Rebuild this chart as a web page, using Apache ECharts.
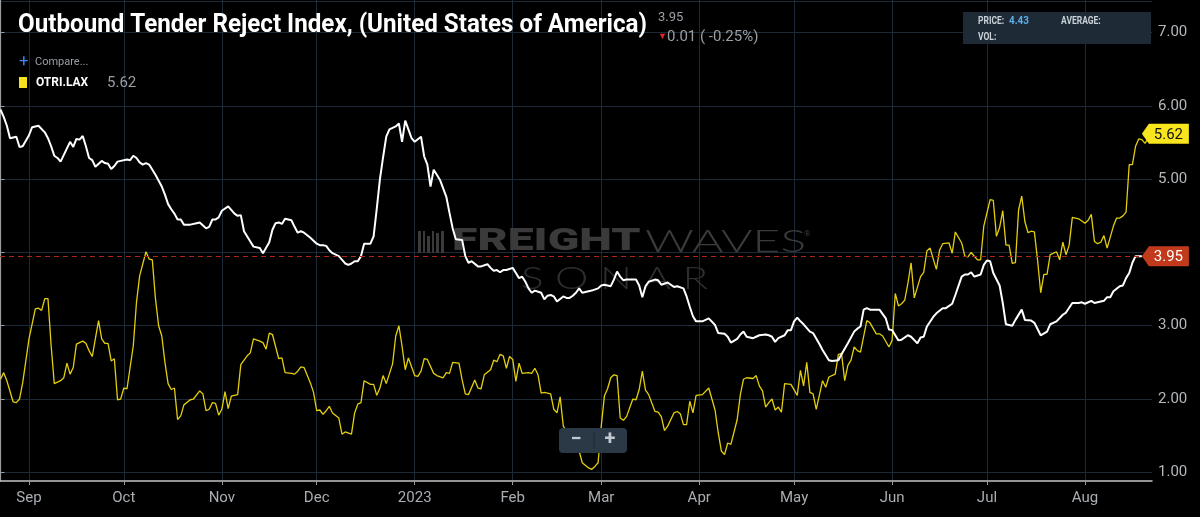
<!DOCTYPE html>
<html><head><meta charset="utf-8">
<script src="https://cdn.jsdelivr.net/npm/echarts@6/dist/echarts.min.js"></script>
<style>html,body{margin:0;padding:0;background:#000;}#c{width:1200px;height:517px;}</style>
</head><body><div id="c"></div>
<script>
// ---- data (day offsets counted from startDate) ----
const startDate = '2022-08-23';
const usDays = [0,1,2,3,5,6,7,9,10,12,14,15,16,17,18,19,21,22,23,24,25,26,27,28,29,30,32,33,34,35,36,37,38,40,41,42,43,44,45,46,47,49,51,52,53,54,55,56,57,58,60,62,63,65,66,67,68,69,70,72,74,75,76,77,79,80,82,83,85,86,87,88,89,90,92,93,94,95,96,98,100,101,102,103,104,105,107,109,110,111,112,113,114,115,117,118,119,120,121,122,123,125,126,127,128,130,131,133,134,135,136,137,138,139,141,142,143,144,146,147,148,149,151,152,154,155,156,157,158,159,160,162,163,164,165,166,167,168,169,171,172,173,174,175,176,178,179,180,181,182,183,184,186,187,189,190,191,193,194,195,196,197,198,200,201,202,203,204,205,207,208,209,211,212,213,214,216,217,218,219,220,222,223,224,226,227,229,230,231,233,234,235,236,238,239,240,242,243,244,245,246,248,249,250,251,252,253,254,256,257,259,260,262,263,265,266,268,270,271,272,273,274,275,277,278,280,281,282,284,285,287,288,290,291,292,293,295,296,298,299,301,302,304,305,306,307,308,310,311,312,313,314,316,317,318,320,321,323,324,326,327,329,331,332,334,336,337,339,341,342,343,345,346,347,349,350,351,352,354,355,356,357,358,359,361];
const usValues = [5.95,5.85,5.73,5.56,5.58,5.44,5.45,5.60,5.71,5.73,5.64,5.56,5.45,5.32,5.29,5.24,5.42,5.51,5.44,5.55,5.54,5.59,5.45,5.29,5.26,5.17,5.25,5.22,5.21,5.14,5.18,5.24,5.25,5.27,5.26,5.32,5.29,5.23,5.20,5.22,5.20,5.06,4.90,4.79,4.66,4.59,4.53,4.45,4.45,4.38,4.38,4.40,4.41,4.33,4.35,4.45,4.45,4.48,4.57,4.63,4.53,4.50,4.51,4.29,4.15,4.08,4.06,3.99,4.14,4.31,4.40,4.41,4.39,4.46,4.44,4.35,4.27,4.29,4.27,4.20,4.12,4.10,4.10,4.09,4.03,3.99,3.95,3.85,3.83,3.85,3.88,3.88,3.95,4.12,4.12,4.22,4.60,5.00,5.30,5.58,5.68,5.72,5.76,5.51,5.80,5.56,5.51,5.58,5.31,5.20,4.90,5.13,5.06,4.99,4.76,4.54,4.33,4.18,4.17,3.95,3.86,3.88,3.81,3.81,3.84,3.79,3.75,3.76,3.73,3.76,3.76,3.79,3.72,3.65,3.67,3.60,3.51,3.45,3.48,3.45,3.36,3.41,3.42,3.40,3.33,3.40,3.38,3.38,3.41,3.45,3.51,3.45,3.47,3.48,3.51,3.55,3.56,3.54,3.63,3.74,3.67,3.62,3.63,3.63,3.63,3.55,3.39,3.54,3.60,3.63,3.62,3.56,3.59,3.56,3.53,3.54,3.51,3.40,3.26,3.13,3.06,3.06,3.08,3.10,3.01,2.90,2.89,2.85,2.77,2.82,2.88,2.92,2.85,2.83,2.85,2.87,2.88,2.87,2.85,2.78,2.83,2.87,2.94,2.94,3.06,3.11,3.06,3.02,2.92,2.90,2.75,2.67,2.53,2.52,2.53,2.61,2.76,2.92,2.96,2.99,3.22,3.24,3.22,3.22,3.22,3.10,2.95,2.94,2.80,2.81,2.87,2.85,2.76,2.84,2.85,2.99,3.12,3.17,3.24,3.24,3.30,3.42,3.67,3.70,3.70,3.73,3.67,3.70,3.83,3.89,3.88,3.72,3.55,3.31,3.02,3.00,3.08,3.22,3.08,3.07,3.04,2.87,2.92,3.02,3.06,3.15,3.18,3.31,3.31,3.32,3.30,3.34,3.31,3.32,3.34,3.39,3.39,3.47,3.54,3.55,3.65,3.72,3.86,3.95,3.95];
const laxDays = [0,1,2,4,5,6,7,9,11,12,13,14,15,16,17,19,20,21,22,23,24,26,27,28,29,31,32,33,34,35,36,37,38,39,40,42,43,44,46,47,48,49,50,51,52,53,54,55,56,57,58,60,61,63,64,65,66,67,68,69,70,71,72,73,75,76,78,79,80,82,83,84,85,86,88,89,90,92,93,94,95,96,98,99,100,101,102,103,104,105,107,108,109,111,112,113,114,115,117,118,119,120,121,122,124,125,126,127,128,129,131,132,133,134,135,137,138,140,141,142,143,145,146,147,148,150,151,152,153,155,156,157,158,159,160,161,162,163,164,165,167,168,169,170,171,172,174,175,176,177,178,183,184,186,187,188,189,190,191,192,193,194,195,196,197,198,200,201,202,203,204,205,207,208,209,210,211,213,214,215,216,217,218,219,220,222,224,226,227,228,229,230,231,233,234,235,236,238,239,240,241,242,243,244,245,246,247,248,250,252,253,254,255,256,257,258,260,261,262,264,265,266,267,268,269,270,271,272,274,275,277,278,279,281,282,283,284,285,286,287,288,289,291,292,293,294,296,297,298,300,301,302,304,305,306,307,309,310,311,313,314,315,316,317,318,319,320,321,322,323,324,325,326,327,328,329,330,331,332,334,335,336,337,338,339,341,343,344,345,346,347,348,349,350,352,353,354,355,356,357,358,359,360,361,362,363];
const laxValues = [2.27,2.36,2.25,1.96,1.95,2.00,2.22,2.82,3.23,3.24,3.21,3.37,3.37,2.73,2.21,2.25,2.29,2.49,2.34,2.43,2.75,2.79,2.76,2.66,2.58,3.07,2.82,2.76,2.76,2.52,2.55,1.99,2.00,2.15,2.14,2.73,3.32,3.68,4.01,3.91,3.90,3.37,3.00,2.86,2.50,2.21,2.13,2.15,1.72,1.77,1.92,1.99,2.00,2.11,2.07,1.84,1.86,1.95,1.94,1.78,1.86,2.10,1.87,2.04,2.06,2.47,2.59,2.63,2.82,2.79,2.77,2.68,2.90,2.88,2.55,2.56,2.36,2.35,2.34,2.38,2.44,2.43,2.22,2.09,1.84,1.85,1.79,1.84,1.90,1.81,1.74,1.52,1.55,1.52,1.81,1.93,1.95,2.25,2.20,2.20,2.05,2.15,2.32,2.21,2.48,2.86,3.00,2.72,2.40,2.56,2.32,2.31,2.38,2.55,2.54,2.35,2.32,2.29,2.36,2.35,2.50,2.49,2.26,2.07,2.06,2.26,2.15,2.14,2.33,2.40,2.53,2.51,2.61,2.59,2.42,2.58,2.54,2.24,2.49,2.35,2.36,2.35,2.42,2.33,2.08,2.09,2.07,1.86,1.81,2.03,1.63,1.29,1.13,1.06,1.04,1.08,1.13,1.63,2.04,2.14,2.29,2.33,2.32,1.74,1.71,1.76,2.00,1.99,2.13,2.38,2.12,2.06,1.83,1.82,1.76,1.57,1.63,1.81,1.83,1.80,1.65,1.65,1.97,1.81,2.05,2.06,2.15,1.85,1.54,1.29,1.24,1.40,1.38,1.72,2.06,2.27,2.29,2.28,2.32,2.18,2.11,1.89,1.95,2.00,1.85,1.89,1.82,2.21,2.20,2.05,2.39,2.18,2.50,2.09,2.07,1.86,2.25,2.16,2.30,2.34,2.61,2.62,2.25,2.46,2.53,2.71,2.66,2.64,3.07,3.04,2.89,2.89,2.86,2.71,2.80,3.44,3.27,3.30,3.35,3.58,3.86,3.38,3.67,3.73,4.02,4.06,3.77,4.03,4.12,4.13,3.99,4.28,4.13,3.95,3.94,4.00,3.90,3.90,4.36,4.72,4.71,4.22,4.34,4.57,4.10,4.10,3.85,3.86,4.58,4.77,4.42,4.27,4.29,4.28,3.90,3.45,3.70,3.70,3.97,4.01,3.90,4.14,3.97,4.10,4.48,4.46,4.40,4.44,4.52,4.15,4.12,4.14,4.23,4.06,4.36,4.47,4.47,4.50,4.55,5.20,5.20,5.45,5.55,5.54,5.49,5.56];
const monthTicks = ['2022-09-01','2022-10-01','2022-11-01','2022-12-01','2023-01-01','2023-02-01','2023-03-01','2023-04-01','2023-05-01','2023-06-01','2023-07-01','2023-08-01'];
const monthLabels = ['Sep','Oct','Nov','Dec','2023','Feb','Mar','Apr','May','Jun','Jul','Aug'];
const yTicks = [1,2,3,4,5,6,7];
const usLast = 3.95;
const laxLast = 5.62;
const usChange = '0.01 ( -0.25%)';
const infoPrice = '4.43';
const xRangeDays = [-0.17, 364.2];
const yRange = [0.881, 7.446];

// ---- build ----
const DAY = 86400000;
const t0 = Date.parse(startDate);
const usData = usDays.map((d, i) => [d, usValues[i]]);
const laxData = laxDays.map((d, i) => [d, laxValues[i]]);
const tickDays = monthTicks.map(s => Math.round((Date.parse(s) - t0) / DAY));
const labelOf = {};
tickDays.forEach((d, i) => { labelOf[d] = monthLabels[i]; });
const lastDay = usDays[usDays.length - 1];
// axis labels that sit under a price tag are covered by it in the original
const coveredByTag = v => Math.abs(v - usLast) < 0.15 || Math.abs(v - laxLast) < 0.15;

const FONT = 'Roboto, "Noto Sans", sans-serif';
const GRID = '#1c2937';

function txt(x, y, text, o) {
  o = o || {};
  return {
    type: 'text', x: x, y: y, z: o.z || 100, scaleX: o.sx || 1,
    style: {
      text: text, fill: o.fill || '#9a9fa5', fontSize: o.size || 12,
      fontWeight: o.weight || 'normal', fontFamily: o.family || FONT,
      textVerticalAlign: 'middle', textAlign: o.align || 'left'
    }
  };
}
const tagPath = 'path://M0,10 L7,0 L47,0 L47,20 L7,20 Z';

const chart = echarts.init(document.getElementById('c'), null, { renderer: 'canvas' });
chart.setOption({
  backgroundColor: '#000000',
  animation: false,
  grid: { left: 0, right: 48, top: 0, bottom: 36, containLabel: false },
  xAxis: {
    type: 'value',
    min: xRangeDays[0], max: xRangeDays[1],
    axisLine: { show: true, lineStyle: { color: '#c4c4c4', width: 1.5 } },
    axisTick: { show: true, customValues: tickDays, length: 4, lineStyle: { color: '#9a9a9a' } },
    axisLabel: {
      customValues: tickDays, color: '#a9aeb3', fontSize: 15, fontFamily: FONT, margin: 10,
      formatter: v => labelOf[Math.round(v)] || ''
    },
    splitLine: { show: true, lineStyle: { color: GRID, width: 1 } }
  },
  yAxis: {
    type: 'value', position: 'right', z: 0,
    min: yRange[0], max: yRange[1],
    axisLine: { show: true, lineStyle: { color: '#9c9c9c', width: 1.2 } },
    axisTick: { show: true, customValues: yTicks, length: 4, lineStyle: { color: '#9c9c9c' } },
    axisLabel: {
      customValues: yTicks, color: '#b4b8bc', fontSize: 15, fontFamily: FONT, margin: 6,
      formatter: v => coveredByTag(v) ? '' : Number(v).toFixed(2)
    },
    splitLine: { show: true, lineStyle: { color: GRID, width: 1 } }
  },
  series: [
    {
      name: 'OTRI.LAX', type: 'line', data: laxData, showSymbol: false, z: 3,
      lineStyle: { color: '#e4cf0e', width: 1.3 }, itemStyle: { color: '#e4cf0e' },
      markPoint: {
        symbol: tagPath, symbolSize: [47, 20], symbolOffset: ['50%', 0], silent: true, z: 20,
        itemStyle: { color: '#f9e51d' },
        label: { show: true, position: 'inside', color: '#111', fontSize: 15, fontFamily: FONT, offset: [3, 1], formatter: laxLast.toFixed(2) },
        data: [{ coord: [lastDay, laxLast] }]
      }
    },
    {
      name: 'OTRI.USA', type: 'line', data: usData, showSymbol: false, z: 4,
      lineStyle: { color: '#ffffff', width: 2 }, itemStyle: { color: '#ffffff' },
      markLine: {
        silent: true, symbol: ['none', 'none'], label: { show: false },
        lineStyle: { color: '#a8291b', type: [5, 4], width: 1 },
        data: [{ yAxis: usLast }]
      },
      markPoint: {
        symbol: tagPath, symbolSize: [47, 20], symbolOffset: ['50%', 0], silent: true, z: 20,
        itemStyle: { color: '#c23a1c' },
        label: { show: true, position: 'inside', color: '#ffffff', fontSize: 15, fontFamily: FONT, offset: [3, 1], formatter: usLast.toFixed(2) },
        data: [{ coord: [lastDay, usLast] }]
      }
    }
  ],
  graphic: [
    { type: 'line', z: 0, shape: { x1: 0, y1: 1.5, x2: 1152, y2: 1.5 }, style: { stroke: GRID, lineWidth: 1 } },
    { type: 'group', z: 1, children: [
      { type: 'rect', shape: { x: 418, y: 231, width: 3, height: 22 }, style: { fill: '#3a3a3a' }, z: 1 },
      { type: 'rect', shape: { x: 423, y: 231, width: 2, height: 22 }, style: { fill: '#3a3a3a' }, z: 1 },
      { type: 'rect', shape: { x: 427, y: 236, width: 3, height: 17 }, style: { fill: '#3a3a3a' }, z: 1 },
      { type: 'rect', shape: { x: 432, y: 231, width: 2, height: 22 }, style: { fill: '#3a3a3a' }, z: 1 },
      { type: 'rect', shape: { x: 436, y: 233, width: 3, height: 20 }, style: { fill: '#3a3a3a' }, z: 1 },
      { type: 'rect', shape: { x: 441, y: 231, width: 3, height: 22 }, style: { fill: '#3a3a3a' }, z: 1 }
    ]},
    txt(452, 242, 'FREIGHT', { fill: '#3a3a3a', size: 32, weight: 900, sx: 1.45, z: 1 }),
    txt(645, 242, 'WAVES', { fill: '#3b3b3b', size: 32, weight: 300, family: 'Lato, Roboto, sans-serif', sx: 1.5, z: 1 }),
    txt(804, 234, '®', { fill: '#3b3b3b', size: 8, z: 1 }),
    txt(521, 279, 'S O N A R', { fill: '#2e2e2e', size: 32, weight: 300, family: 'Lato, Roboto, sans-serif', sx: 1.32, z: 1 }),

    txt(18, 25, 'Outbound Tender Reject Index, (United States of America)', { fill: '#ffffff', size: 26, weight: 'bold', sx: 0.93 }),
    txt(658, 18, usLast.toFixed(2), { fill: '#9a9fa5', size: 13 }),
    txt(658, 37, '▼', { fill: '#e0262b', size: 9 }),
    txt(667, 37, usChange, { fill: '#9a9fa5', size: 15 }),

    txt(19, 62, '+', { fill: '#3b82f6', size: 17 }),
    txt(35, 62, 'Compare...', { fill: '#9a9fa5', size: 11 }),
    { type: 'rect', z: 100, shape: { x: 19, y: 77, width: 8, height: 11 }, style: { fill: '#f4e21c' } },
    txt(36, 83, 'OTRI.LAX', { fill: '#ffffff', size: 13, weight: 'bold', sx: 0.92 }),
    txt(107, 83, laxLast.toFixed(2), { fill: '#9a9fa5', size: 15 }),

    { type: 'rect', z: 100, shape: { x: 963, y: 12, width: 188, height: 32 }, style: { fill: '#1e2b37' } },
    txt(978, 21, 'PRICE:', { fill: '#c9d0d7', size: 10, weight: 'bold', sx: 0.85 }),
    txt(1009, 21, infoPrice, { fill: '#5aaeea', size: 11, weight: 'bold', sx: 0.9 }),
    txt(1061, 21, 'AVERAGE:', { fill: '#c9d0d7', size: 10, weight: 'bold', sx: 0.85 }),
    txt(978, 37, 'VOL:', { fill: '#c9d0d7', size: 10, weight: 'bold', sx: 0.85 }),

    { type: 'rect', z: 100, shape: { x: 559, y: 428, width: 68, height: 25, r: 4 }, style: { fill: '#2b3947' } },
    { type: 'line', z: 101, shape: { x1: 594, y1: 432, x2: 594, y2: 449 }, style: { stroke: '#1e2833', lineWidth: 1 } },
    txt(576, 440, '−', { fill: '#c3c8cd', size: 20, weight: 'bold', align: 'center', z: 102 }),
    txt(610, 440, '+', { fill: '#c3c8cd', size: 20, weight: 'bold', align: 'center', z: 102 })
  ]
});
</script></body></html>
